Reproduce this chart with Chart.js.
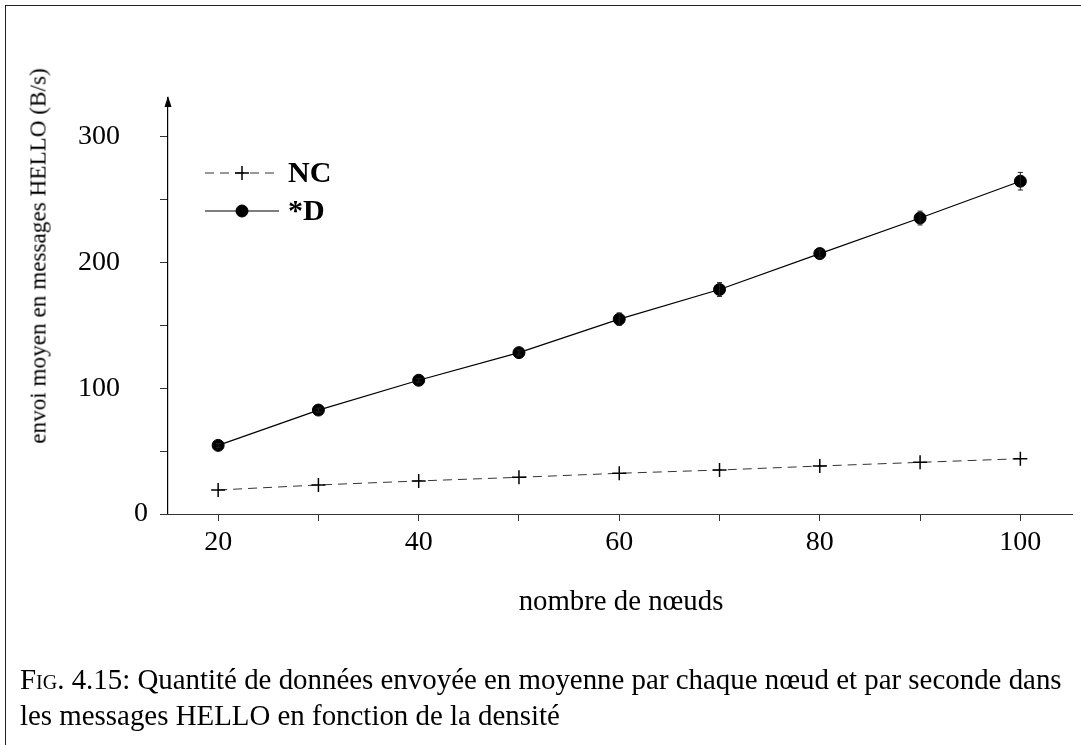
<!DOCTYPE html>
<html>
<head>
<meta charset="utf-8">
<script src="https://cdn.jsdelivr.net/npm/chart.js@4"></script>
<style>
  html, body { margin: 0; padding: 0; background: #fff; }
  body { width: 1081px; height: 745px; position: relative; overflow: hidden; font-family: "Liberation Serif", "DejaVu Serif", serif; color: #000; }
  #frame { position: absolute; left: 5px; top: 5px; width: 1200px; height: 900px; border-left: 1px solid #222; border-top: 1px solid #222; }
  #wrap { position: absolute; left: 0; top: 0; width: 1081px; height: 745px; }
  .ytitle { position: absolute; left: 38px; top: 256px; transform: translate(-50%, -50%) rotate(-90deg); white-space: nowrap; font-size: 23.2px; }
  .xtitle { position: absolute; left: 621px; top: 600px; transform: translate(-50%, -50%); white-space: nowrap; font-size: 28.8px; }
  .caption { position: absolute; left: 20px; top: 661px; font-size: 28.9px; line-height: 36px; white-space: nowrap; }
  .sc { font-variant: small-caps; }
</style>
</head>
<body>
<div id="frame"></div>
<div id="wrap"><canvas id="graphic" width="1081" height="745"></canvas></div>
<div class="ytitle">envoi moyen en messages HELLO (B/s)</div>
<div class="xtitle">nombre de nœuds</div>
<div class="caption"><span class="sc">Fig.</span> 4.15: Quantité de données envoyée en moyenne par chaque nœud et par seconde dans<br>les messages HELLO en fonction de la densité</div>
<script>
const nodes = [20, 30, 40, 50, 60, 70, 80, 90, 100];
const ncValues = [19.1, 23.1, 26.3, 29.2, 32.4, 35.0, 38.2, 41.1, 44.0];
const dValues = [54.6, 82.7, 106.4, 128.4, 155.0, 178.6, 207.2, 235.5, 264.8];
const dErrors = [1.5, 1.5, 1.5, 2, 5, 5.5, 3, 5.5, 7];
const xTicks = [20, 30, 40, 50, 60, 70, 80, 90, 100];
const yTicks = [0, 50, 100, 150, 200, 250, 300];

const font = "Liberation Serif";

const pairs = (xs, ys) => xs.map((x, i) => ({ x: x, y: ys[i] }));

// error bars, arrow on the y axis, and the hand drawn legend
const extras = {
  id: 'extras',
  afterDatasetsDraw(chart) {
    const ctx = chart.ctx;
    const xs = chart.scales.x, ys = chart.scales.y;
    const area = chart.chartArea;
    ctx.save();
    ctx.strokeStyle = '#222';
    ctx.lineWidth = 1;
    nodes.forEach((n, i) => {
      const px = xs.getPixelForValue(n);
      const top = ys.getPixelForValue(dValues[i] + dErrors[i]);
      const bot = ys.getPixelForValue(dValues[i] - dErrors[i]);
      ctx.beginPath();
      ctx.moveTo(px, top); ctx.lineTo(px, bot);
      ctx.moveTo(px - 2.5, top); ctx.lineTo(px + 2.5, top);
      ctx.moveTo(px - 2.5, bot); ctx.lineTo(px + 2.5, bot);
      ctx.stroke();
    });
    // arrow head
    ctx.fillStyle = '#000';
    ctx.beginPath();
    ctx.moveTo(area.left, area.top - 2);
    ctx.lineTo(area.left - 3.5, area.top + 9);
    ctx.lineTo(area.left + 3.5, area.top + 9);
    ctx.closePath();
    ctx.fill();
    // small overhang of the x axis to the left
    ctx.strokeStyle = '#333';
    ctx.beginPath();
    ctx.moveTo(area.left - 8, area.bottom + 0.5);
    ctx.lineTo(area.left, area.bottom + 0.5);
    ctx.stroke();

    // legend
    const rows = [173, 211];
    chart.data.datasets.forEach((ds, i) => {
      const y = rows[i];
      ctx.strokeStyle = ds.borderColor;
      ctx.lineWidth = ds.borderWidth;
      ctx.setLineDash(ds.borderDash || []);
      ctx.beginPath();
      ctx.moveTo(205, y); ctx.lineTo(279, y);
      ctx.stroke();
      ctx.setLineDash([]);
      ctx.strokeStyle = '#000';
      ctx.fillStyle = '#000';
      ctx.lineWidth = ds.pointBorderWidth;
      Chart.helpers.drawPoint(ctx, {
        pointStyle: ds.pointStyle, radius: ds.pointRadius, rotation: 0,
        borderWidth: ds.pointBorderWidth
      }, 242, y);
      ctx.font = 'bold 30px "' + font + '"';
      ctx.textBaseline = 'middle';
      ctx.fillText(ds.label, 288, y + 1);
    });
    ctx.restore();
  }
};

const graphic = document.getElementById('graphic');
new Chart(graphic, {
  type: 'line',
  data: {
    datasets: [
      {
        label: 'NC',
        data: pairs(nodes, ncValues),
        borderColor: '#333',
        borderWidth: 1,
        borderDash: [9, 6],
        pointStyle: 'cross',
        pointRadius: 7,
        pointBorderWidth: 1.5,
        pointBorderColor: '#000',
        pointBackgroundColor: '#000',
        fill: false,
      },
      {
        label: '*D',
        data: pairs(nodes, dValues),
        borderColor: '#000',
        borderWidth: 1.2,
        pointStyle: 'circle',
        pointRadius: 6,
        pointBorderWidth: 1,
        pointBorderColor: '#000',
        pointBackgroundColor: '#000',
        fill: false,
      },
    ],
  },
  options: {
    responsive: false,
    animation: false,
    events: [],
    layout: { padding: { left: 0, top: 98, right: 6, bottom: 0 } },
    plugins: { legend: { display: false }, tooltip: { enabled: false } },
    scales: {
      x: {
        type: 'linear',
        min: 15,
        max: 105.2,
        afterFit: s => { s.height = 231; },
        afterBuildTicks: s => { s.ticks = xTicks.map(v => ({ value: v })); },
        grid: { display: true, drawOnChartArea: false, drawTicks: true, tickLength: 7, color: '#333', tickColor: '#333' },
        border: { display: true, color: '#333', width: 1 },
        ticks: {
          color: '#000', padding: 5, maxRotation: 0, autoSkip: false,
          font: { family: font, size: 28 },
          callback: v => (v % 20 === 0 ? String(v) : ''),
        },
      },
      y: {
        type: 'linear',
        min: 0,
        max: 331,
        afterFit: s => { s.width = 168; },
        afterBuildTicks: s => { s.ticks = yTicks.map(v => ({ value: v })); },
        grid: { display: true, drawOnChartArea: false, drawTicks: true, tickLength: 8, color: '#000', tickColor: '#333' },
        border: { display: true, color: '#000', width: 1.2 },
        ticks: {
          color: '#000', padding: 12, autoSkip: false,
          font: { family: font, size: 28 },
          // the multi-digit labels sit further from the axis than "0"
          callback: v => (v === 0 ? '0' : v % 100 === 0 ? String(v) + '\u2007\u2007' : ''),
        },
      },
    },
  },
  plugins: [extras],
});
</script>
</body>
</html>
